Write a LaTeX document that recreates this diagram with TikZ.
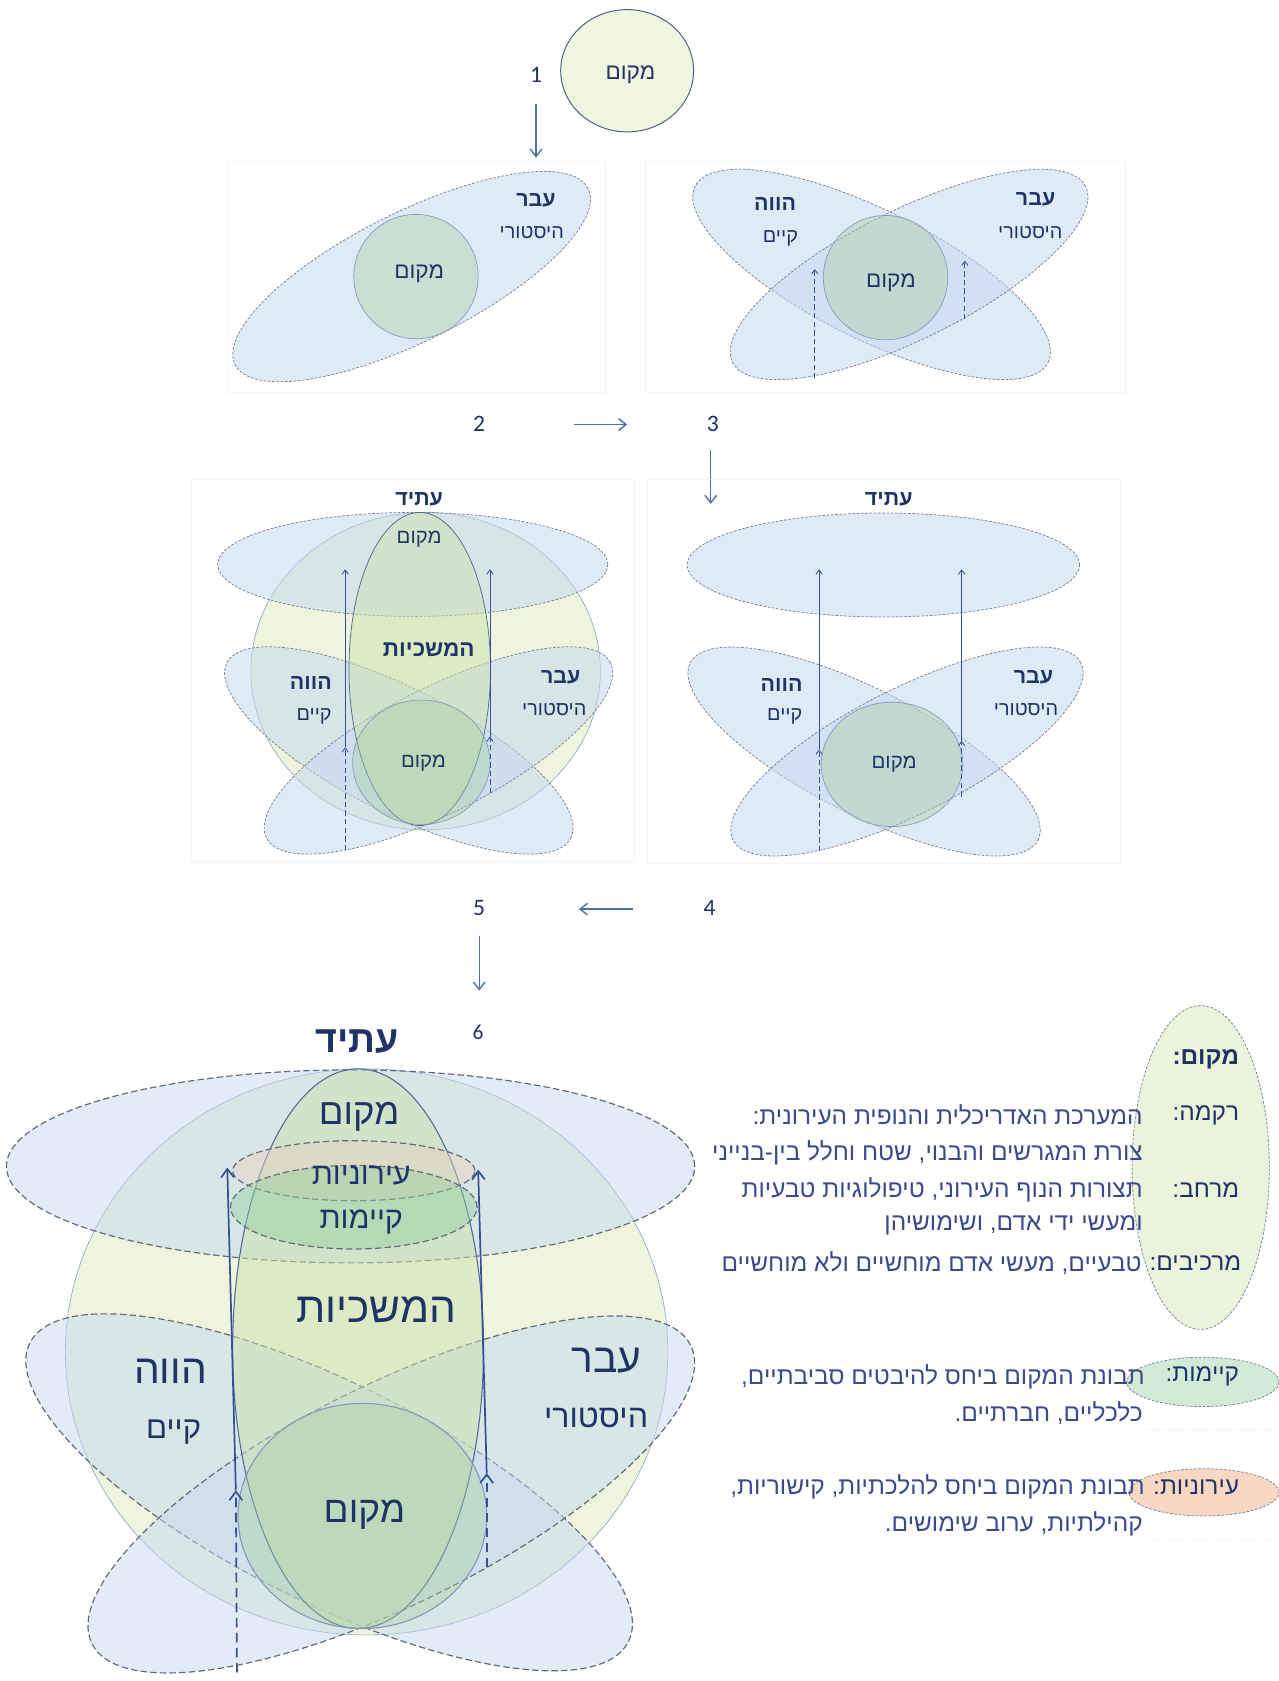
\documentclass[tikz,border=0pt]{standalone}
\usepackage{fontspec}
\usetikzlibrary{arrows.meta}
\TeXXeTstate=1
\newfontfamily\hebfont[Script=Hebrew]{Liberation Sans}
\newfontfamily\numfont{Carlito}
\newcommand\hb[1]{\beginR #1\endR}
\newcommand\fs[1]{\fontsize{#1}{#1}\selectfont}
\definecolor{navy}{HTML}{1F3466}
\definecolor{legtext}{HTML}{3A4A8C}
\definecolor{arrblue}{HTML}{4A72AC}
\definecolor{darkarr}{HTML}{34529A}
\definecolor{blueF}{HTML}{C6D9F1}
\definecolor{edgeG}{HTML}{7A8499}
\definecolor{greenF}{HTML}{A9D0A0}
\definecolor{yellowF}{HTML}{E4EFC6}
\definecolor{tallF}{HTML}{CBE2AE}
\definecolor{kayF}{HTML}{96CFA0}
\definecolor{irF}{HTML}{E9D3C2}
\definecolor{topcirc}{HTML}{F1F6E0}
\definecolor{legG}{HTML}{EBF3DA}
\definecolor{legK}{HTML}{D2EBD9}
\definecolor{legI}{HTML}{F8D8C2}
\definecolor{solidedge}{HTML}{4F6A9E}
\definecolor{bigedge}{HTML}{8FA3C8}
\begin{document}
\begin{tikzpicture}[x=1pt,y=-1pt,
  lbl/.style={inner sep=0pt, text=navy, font=\hebfont},
  leg/.style={inner sep=0pt, text=legtext, font=\hebfont\fs{22.8}, anchor=east},
  legl/.style={inner sep=0pt, text=navy, font=\hebfont\fs{22.8}, anchor=east},
  num/.style={inner sep=0pt, text=navy, font=\numfont\fs{22}},
  stepar/.style={draw=arrblue, line width=1.3pt, -{Straight Barb[length=7pt,width=11pt]}},
  panelbg/.style={draw=black!4, line width=0.5pt},
  blueel/.style={fill=blueF, fill opacity=0.55, draw=edgeG, dash pattern=on 2.5pt off 1.5pt, line width=0.7pt},
  bigblue/.style={fill=blueF, fill opacity=0.5, draw=edgeG!80!black, dash pattern=on 6pt off 3pt, line width=1.1pt},
  greencirc/.style={fill=greenF, fill opacity=0.4, draw=solidedge!70, line width=0.6pt},
  ycirc/.style={fill=yellowF, fill opacity=0.6, draw=bigedge, line width=0.6pt},
  tallel/.style={fill=tallF, fill opacity=0.5, draw=solidedge, line width=0.7pt},
  thinar/.style={draw=darkarr, line width=0.8pt, -{Straight Barb[length=4pt,width=6pt]}},
  thinda/.style={thinar, dash pattern=on 5pt off 3pt},
  bigar/.style={draw=darkarr, line width=1.6pt, -{Straight Barb[length=8pt,width=12pt]}},
  bigda/.style={bigar, dash pattern=on 9pt off 5pt}
]
\useasboundingbox (0,0) rectangle (1193,1568);
\fill[white] (0,0) rectangle (1193,1568);

% ---------------- step 1: top circle
\draw[fill=topcirc, draw=navy!80, line width=0.9pt] (585,66) ellipse [x radius=62pt, y radius=57pt];
\node[lbl, font=\hebfont\fs{21}] (c0) at (588,70) {\hb{מקום}};
\node[num] (n1) at (500,70) {1};
\coordinate (a1s) at (500,97); \coordinate (a1e) at (500,147);
\draw[stepar] (a1s) -- (a1e);

% ---------------- panel 2
\draw[panelbg] (212,150) rectangle (565,366);
\draw[blueel, rotate around={26.5:(384,258)}] (384,258) ellipse [x radius=184pt, y radius=60pt];
\draw[greencirc] (388,258) ellipse [x radius=58pt, y radius=58pt];
\node[lbl, font=\hebfont\bfseries\fs{20}] (p2a) at (500,187) {\hb{עבר}};
\node[lbl, font=\hebfont\fs{18.5}] (p2b) at (496,217) {\hb{היסטורי}};
\node[lbl, font=\hebfont\fs{21}] (p2c) at (391,255) {\hb{מקום}};

% ---------------- panel 3
\draw[panelbg] (602,150) rectangle (1050,366);
\draw[blueel, rotate around={-26.5:(813,256)}] (813,256) ellipse [x radius=184pt, y radius=60pt];
\draw[blueel, rotate around={26.5:(848,256)}] (848,256) ellipse [x radius=184pt, y radius=60pt];
\draw[greencirc] (826,259) ellipse [x radius=58pt, y radius=58pt];
\coordinate (p3l0) at (760,353); \coordinate (p3l1) at (760,251);
\coordinate (p3r0) at (900,298); \coordinate (p3r1) at (900,243);
\draw[thinda] (p3l0) -- (p3l1);
\draw[thinda] (p3r0) -- (p3r1);
\node[lbl, font=\hebfont\bfseries\fs{20}] (p3a) at (723,190) {\hb{הווה}};
\node[lbl, font=\hebfont\fs{18.5}] (p3b) at (728,222) {\hb{קיים}};
\node[lbl, font=\hebfont\bfseries\fs{20}] (p3c) at (966,186) {\hb{עבר}};
\node[lbl, font=\hebfont\fs{18.5}] (p3d) at (961,217) {\hb{היסטורי}};
\node[lbl, font=\hebfont\fs{21}] (p3e) at (831,264) {\hb{מקום}};

% ---------------- 2 -> 3 row
\node[num] (n2) at (447,395) {2};
\node[num] (n3) at (665,395) {3};
\coordinate (a2s) at (535,396); \coordinate (a2e) at (585,396);
\draw[stepar] (a2s) -- (a2e);
\coordinate (a3s) at (663,420); \coordinate (a3e) at (663,470);
\draw[stepar] (a3s) -- (a3e);

% ---------------- panel 4 (right)
\draw[panelbg] (604,447) rectangle (1045,805);
\draw[blueel] (824,527) ellipse [x radius=183pt, y radius=48.5pt];
\draw[blueel, rotate around={-27:(806,701)}] (806,701) ellipse [x radius=182pt, y radius=58pt];
\draw[blueel, rotate around={27:(846,701)}] (846,701) ellipse [x radius=182pt, y radius=58pt];
\draw[greencirc] (832,713) ellipse [x radius=66pt, y radius=58pt];
\coordinate (p4l0) at (764,794); \coordinate (p4l1) at (764,699); \coordinate (p4l2) at (764,531);
\coordinate (p4r0) at (897,743); \coordinate (p4r1) at (897,691); \coordinate (p4r2) at (897,531);
\draw[thinda] (p4l0) -- (p4l1);
\draw[thinar] (p4l1) -- (p4l2);
\draw[thinda] (p4r0) -- (p4r1);
\draw[thinar] (p4r1) -- (p4r2);
\node[lbl, font=\hebfont\bfseries\fs{20}] (p4t) at (829,466) {\hb{עתיד}};
\node[lbl, font=\hebfont\bfseries\fs{20}] (p4a) at (729,639) {\hb{הווה}};
\node[lbl, font=\hebfont\fs{18.5}] (p4b) at (732,668) {\hb{קיים}};
\node[lbl, font=\hebfont\bfseries\fs{20}] (p4c) at (964,632) {\hb{עבר}};
\node[lbl, font=\hebfont\fs{18.5}] (p4d) at (957,662) {\hb{היסטורי}};
\node[lbl, font=\hebfont\fs{19}] (p4e) at (834,713) {\hb{מקום}};

% ---------------- panel 5 (left)
\draw[panelbg] (178,447) rectangle (592,803);
\draw[ycirc] (397,626) ellipse [x radius=163pt, y radius=148pt];
\draw[blueel] (385,526.5) ellipse [x radius=182pt, y radius=48.5pt];
\draw[blueel, rotate around={-27:(372,700)}] (372,700) ellipse [x radius=180pt, y radius=58pt];
\draw[blueel, rotate around={27:(409,700)}] (409,700) ellipse [x radius=180pt, y radius=58pt];
\draw[tallel] (391.5,624) ellipse [x radius=66pt, y radius=146pt];
\draw[greencirc] (393,711) ellipse [x radius=64pt, y radius=58pt];
\coordinate (p5l0) at (322,793); \coordinate (p5l1) at (322,697); \coordinate (p5l2) at (322,531);
\coordinate (p5r0) at (457,740); \coordinate (p5r1) at (457,687); \coordinate (p5r2) at (457,531);
\draw[thinda] (p5l0) -- (p5l1);
\draw[thinar] (p5l1) -- (p5l2);
\draw[thinda] (p5r0) -- (p5r1);
\draw[thinar] (p5r1) -- (p5r2);
\node[lbl, font=\hebfont\bfseries\fs{20}] (p5t) at (391,466) {\hb{עתיד}};
\node[lbl, font=\hebfont\fs{19}] (p5m) at (391,503) {\hb{מקום}};
\node[lbl, font=\hebfont\bfseries\fs{21}] (p5h) at (400,606) {\hb{המשכיות}};
\node[lbl, font=\hebfont\bfseries\fs{20}] (p5a) at (290,637) {\hb{הווה}};
\node[lbl, font=\hebfont\fs{18.5}] (p5b) at (293,668) {\hb{קיים}};
\node[lbl, font=\hebfont\bfseries\fs{20}] (p5c) at (523,632) {\hb{עבר}};
\node[lbl, font=\hebfont\fs{18.5}] (p5d) at (517,662) {\hb{היסטורי}};
\node[lbl, font=\hebfont\fs{19}] (p5e) at (395,712) {\hb{מקום}};

% ---------------- 5 <- 4 row
\node[num] (n4) at (662,847) {4};
\node[num] (n5) at (447,847) {5};
\coordinate (a4s) at (590,848); \coordinate (a4e) at (540,848);
\draw[stepar] (a4s) -- (a4e);
\coordinate (a5s) at (447,873); \coordinate (a5e) at (447,924);
\draw[stepar] (a5s) -- (a5e);
\node[num, font=\numfont\fs{20}] (n6) at (446,963) {6};

% ---------------- big panel 6
\draw[ycirc] (342,1261) ellipse [x radius=281pt, y radius=264pt];
\draw[bigblue] (327,1088) ellipse [x radius=321pt, y radius=90pt];
\draw[bigblue, rotate around={-26.5:(307,1392)}] (307,1392) ellipse [x radius=312pt, y radius=102pt];
\draw[bigblue, rotate around={26.5:(365,1394)}] (365,1394) ellipse [x radius=312pt, y radius=102pt];
\draw[tallel, line width=1pt] (334,1258) ellipse [x radius=117pt, y radius=261pt];
\draw[fill=irF, fill opacity=0.45, draw=edgeG!80!black, dash pattern=on 6pt off 3pt, line width=1.1pt] (330,1092) ellipse [x radius=113pt, y radius=28pt];
\draw[fill=kayF, fill opacity=0.45, draw=edgeG!80!black, dash pattern=on 6pt off 3pt, line width=1.1pt] (330,1126) ellipse [x radius=115pt, y radius=39pt];
\draw[greencirc, line width=1pt] (338,1414) ellipse [x radius=116pt, y radius=105pt];
\coordinate (bl0) at (221,1560); \coordinate (bl1) at (220,1390); \coordinate (bl2) at (212,1089);
\coordinate (br0) at (454,1462); \coordinate (br1) at (454,1374); \coordinate (br2) at (446,1091);
\draw[bigda] (bl0) -- (bl1);
\draw[bigar] (bl1) -- (bl2);
\draw[bigda] (br0) -- (br1);
\draw[bigar] (br1) -- (br2);
\node[lbl, font=\hebfont\bfseries\fs{35}] (bt) at (333,972) {\hb{עתיד}};
\node[lbl, font=\hebfont\fs{34}] (bm1) at (335,1042) {\hb{מקום}};
\node[lbl, font=\hebfont\fs{28.5}] (bir) at (337,1097) {\hb{עירוניות}};
\node[lbl, font=\hebfont\fs{28.5}] (bka) at (337,1140) {\hb{קיימות}};
\node[lbl, font=\hebfont\fs{39.5}] (bhm) at (351,1222) {\hb{המשכיות}};
\node[lbl, font=\hebfont\fs{38}] (bhw) at (159,1279) {\hb{הווה}};
\node[lbl, font=\hebfont\fs{29}] (bky) at (162,1336) {\hb{קיים}};
\node[lbl, font=\hebfont\fs{38}] (bav) at (566,1269) {\hb{עבר}};
\node[lbl, font=\hebfont\fs{30}] (bhi) at (556,1323) {\hb{היסטורי}};
\node[lbl, font=\hebfont\fs{34.5}] (bm2) at (340,1413) {\hb{מקום}};

% ---------------- legend
\draw[fill=legG, draw=edgeG, dash pattern=on 2.5pt off 1.5pt, line width=0.7pt] (1120,1089) ellipse [x radius=64pt, y radius=151pt];
\draw[fill=legK, draw=edgeG, dash pattern=on 2.5pt off 1.5pt, line width=0.7pt] (1122,1289) ellipse [x radius=71pt, y radius=23pt];
\draw[fill=legI, draw=edgeG, dash pattern=on 2.5pt off 1.5pt, line width=0.7pt] (1123,1392) ellipse [x radius=70pt, y radius=22pt];
\draw[black!10, dotted, line width=0.8pt] (1070,1333) -- (1190,1333);
\draw[black!10, dotted, line width=0.8pt] (1070,1437) -- (1190,1437);
\node[legl, font=\hebfont\bfseries\fs{22.8}] (lm) at (1156,988) {\hb{מקום:}};
\node[legl] (lr) at (1156,1040) {\hb{רקמה:}};
\node[leg] (lr1) at (1066,1040) {\hb{המערכת האדריכלית והנופית העירונית:}};
\node[leg] (lr2) at (1066,1075) {\hb{צורת המגרשים והבנוי, שטח וחלל בין-בנייני}};
\node[legl] (lh) at (1156,1110) {\hb{מרחב:}};
\node[leg] (lh1) at (1066,1110) {\hb{תצורות הנוף העירוני, טיפולוגיות טבעיות}};
\node[leg] (lh2) at (1066,1143) {\hb{ומעשי ידי אדם, ושימושיהן}};
\node[legl] (lk) at (1158,1178) {\hb{מרכיבים:}};
\node[leg] (lk1) at (1065,1178) {\hb{טבעיים, מעשי אדם מוחשיים ולא מוחשיים}};
\node[legl] (ls) at (1156,1284) {\hb{קיימות:}};
\node[leg] (ls1) at (1068,1284) {\hb{תבונת המקום ביחס להיבטים סביבתיים,}};
\node[leg] (ls2) at (1066,1318) {\hb{כלכליים, חברתיים.}};
\node[legl] (li) at (1156,1387) {\hb{עירוניות:}};
\node[leg] (li1) at (1068,1387) {\hb{תבונת המקום ביחס להלכתיות, קישוריות,}};
\node[leg] (li2) at (1066,1421) {\hb{קהילתיות, ערוב שימושים.}};
\end{tikzpicture}
\end{document}
